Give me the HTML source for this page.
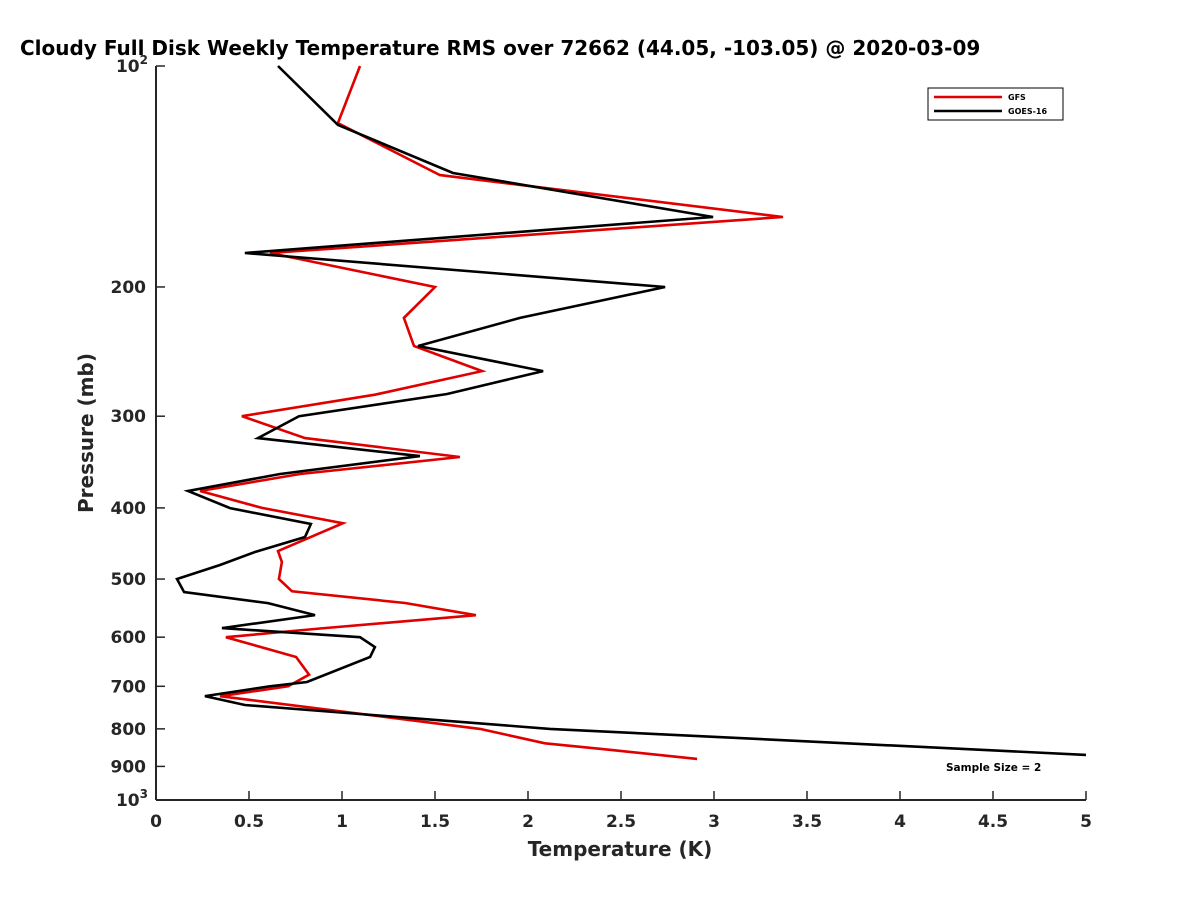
<!DOCTYPE html>
<html><head><meta charset="utf-8"><style>
body{margin:0;background:#fff;overflow:hidden}
svg{display:block;font-family:"DejaVu Sans","Liberation Sans",sans-serif}
</style></head><body>
<svg id="c" width="1200" height="900" xmlns="http://www.w3.org/2000/svg">
<text x="20" y="55" font-size="20" font-weight="bold" fill="#000">Cloudy Full Disk Weekly Temperature RMS over 72662 (44.05, -103.05) @ 2020-03-09</text>
<g id="axes"></g>
<g id="lines"></g>
<g>
<rect x="928" y="88" width="135" height="32" fill="#fff" stroke="#000" stroke-width="1"/>
<line x1="934" y1="97" x2="1002" y2="97" stroke="#e00000" stroke-width="2.5"/>
<text x="1008" y="100" font-size="8" font-weight="bold">GFS</text>
<line x1="934" y1="111" x2="1002" y2="111" stroke="#000" stroke-width="2.5"/>
<text x="1008" y="114" font-size="8" font-weight="bold">GOES-16</text>
</g>
<text x="946" y="771" font-size="10.5" font-weight="bold">Sample Size = 2</text>
<text x="620" y="856" font-size="20" font-weight="bold" text-anchor="middle" fill="#262626">Temperature (K)</text>
<text transform="translate(93,433) rotate(-90)" font-size="20" font-weight="bold" text-anchor="middle" fill="#262626">Pressure (mb)</text>
</svg>
<script>
const xTicks=[0,0.5,1,1.5,2,2.5,3,3.5,4,4.5,5];
const yTicks=[200,300,400,500,600,700,800,900];
const goesP=[100,120.3,139.9,160.6,179.8,200,220.4,240.7,260.4,279.8,300,321.3,340,359.6,379.3,400.2,420.7,438.2,459.3,478.5,500,520.9,539.2,559.8,583.1,600,619,638.6,690.7,700,721.8,742.4,800,868.2];
const goesT=[0.656,0.978,1.597,2.995,0.478,2.737,1.957,1.409,2.081,1.565,0.769,0.548,1.419,0.667,0.172,0.398,0.833,0.801,0.532,0.344,0.113,0.151,0.602,0.855,0.355,1.097,1.177,1.151,0.812,0.613,0.263,0.478,2.118,5.0];
const gfsP=[100,119.6,140.8,160.6,179.8,200,220.4,240.7,260.4,280.4,300,321.3,341,359.6,379.3,400,419.6,458,474,500,519.6,539,560,584,600,638.6,675,700,722,800,837,853,879];
const gfsT=[1.097,0.978,1.527,3.371,0.613,1.5,1.333,1.387,1.753,1.177,0.462,0.801,1.634,0.774,0.237,0.570,1.005,0.656,0.677,0.661,0.731,1.339,1.72,0.882,0.376,0.753,0.823,0.710,0.344,1.742,2.091,2.414,2.909];
const X0=156,X1=1086,Y0=66,Y1=800;
const xs=t=>X0+(t/5)*(X1-X0);
const ys=p=>Y0+Math.log10(p/100)*(Y1-Y0);
const NS="http://www.w3.org/2000/svg";
function mk(tag,attrs,parent){const e=document.createElementNS(NS,tag);for(const k in attrs)e.setAttribute(k,attrs[k]);parent.appendChild(e);return e;}
const ax=document.getElementById('axes');
const la=mk('line',{x1:X0,y1:Y0,x2:X0,y2:Y1,stroke:'#262626','stroke-width':2},ax);


const lb=mk('line',{x1:X0,y1:Y1,x2:X1,y2:Y1,stroke:'#262626','stroke-width':2},ax);


xTicks.forEach(v=>{
 const x=xs(v);
 const t=mk('line',{x1:x,y1:Y1,x2:x,y2:Y1-9,stroke:'#262626','stroke-width':1.5},ax);
 
 
 const l=mk('text',{x:x,y:Y1+27,'font-size':17,'font-weight':'bold','text-anchor':'middle',fill:'#262626'},ax);
 l.textContent=String(v);
 
 
});
[100,...yTicks,1000].forEach(v=>{
 const y=ys(v);
 const t=mk('line',{x1:X0,y1:y,x2:X0+9,y2:y,stroke:'#262626','stroke-width':1.5},ax);
 
 
 const l=mk('text',{x:X0-10,y:y+6,'font-size':17,'font-weight':'bold','text-anchor':'end',fill:'#262626'},ax);
 if(v===100||v===1000){
  l.textContent='10';
  const s=mk('tspan',{dy:-8,'font-size':12},l);s.textContent=(v===100?'2':'3');
  l.setAttribute('x',X0-8);
 } else l.textContent=String(v);
 
 
});
const lg=document.getElementById('lines');
function series(P,T,color,name){
 const pts=P.map((p,i)=>xs(T[i]).toFixed(1)+','+ys(p).toFixed(1)).join(' ');
 const e=mk('polyline',{points:pts,fill:'none',stroke:color,'stroke-width':2.6,'stroke-linejoin':'miter'},lg);
 
 
}
series(gfsP,gfsT,'#e00000','gfs-line');
series(goesP,goesT,'#000','goes16-line');
</script>
</body></html>
